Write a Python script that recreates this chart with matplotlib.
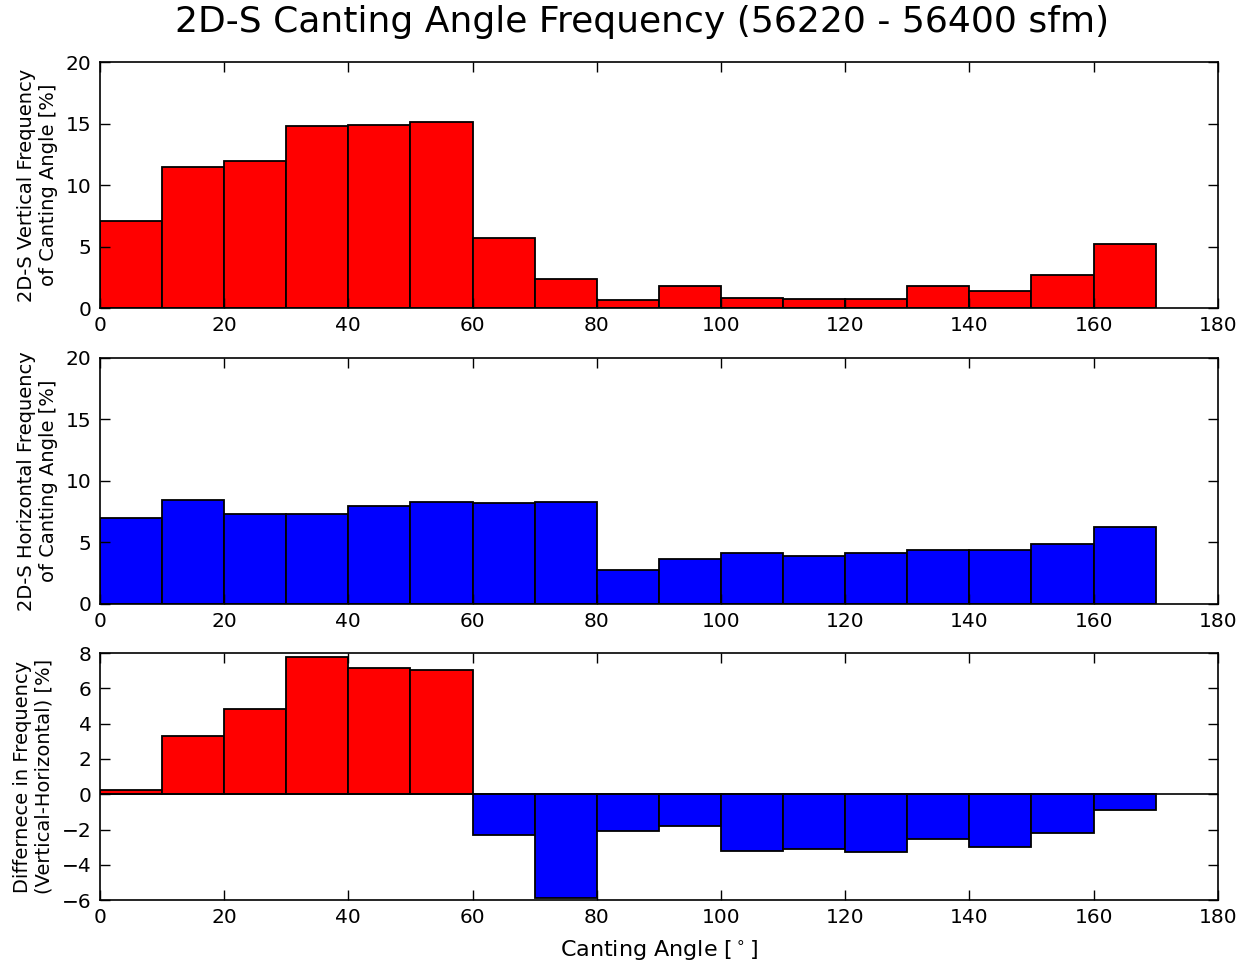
import matplotlib
matplotlib.use("Agg")
import matplotlib.pyplot as plt
import numpy as np

bin_edges = [0, 10, 20, 30, 40, 50, 60, 70, 80, 90, 100, 110, 120, 130, 140, 150, 160, 170]
vertical = [7.11, 11.5, 12.0, 14.8, 14.9, 15.1, 5.72, 2.34, 0.64, 1.83, 0.86, 0.78, 0.78, 1.83, 1.40, 2.66, 5.21]
horizontal = [6.99, 8.46, 7.32, 7.32, 7.94, 8.27, 8.16, 8.24, 2.74, 3.66, 4.09, 3.88, 4.09, 4.39, 4.39, 4.82, 6.21]
difference = [0.23, 3.29, 4.86, 7.77, 7.16, 7.07, -2.31, -5.90, -2.10, -1.81, -3.21, -3.12, -3.27, -2.53, -3.01, -2.17, -0.91]

title = "2D-S Canting Angle Frequency (56220 - 56400 sfm)"
ylabels = ["2D-S Vertical Frequency\nof Canting Angle [%]",
           "2D-S Horizontal Frequency\nof Canting Angle [%]",
           "Differnece in Frequency\n(Vertical-Horizontal) [%]"]
xlabel = "Canting Angle [$^\\circ$]"

lefts = bin_edges[:-1]
width = 10

fig = plt.figure(figsize=(12.49, 9.72), dpi=100)
L, W = 0.080, 0.895
ax1 = fig.add_axes([L, 0.683, W, 0.253])
ax2 = fig.add_axes([L, 0.379, W, 0.253])
ax3 = fig.add_axes([L, 0.074, W, 0.254])

def style(ax):
    ax.set_xlim(0, 180)
    ax.set_xticks(range(0, 181, 20))
    ax.tick_params(direction="in", top=True, right=True, labelsize=14.5, length=7, width=1, pad=6)
    for s in ax.spines.values():
        s.set_linewidth(1.2)

ax1.bar(lefts, vertical, width=width, align="edge", color="#ff0000", edgecolor="black", linewidth=1.3)
ax1.set_ylim(0, 20)
ax1.set_yticks([0, 5, 10, 15, 20])
style(ax1)
ax1.set_ylabel(ylabels[0], fontsize=14, labelpad=6)

ax2.bar(lefts, horizontal, width=width, align="edge", color="#0000ff", edgecolor="black", linewidth=1.3)
ax2.set_ylim(0, 20)
ax2.set_yticks([0, 5, 10, 15, 20])
style(ax2)
ax2.set_ylabel(ylabels[1], fontsize=14, labelpad=6)

diff = np.array(difference)
colors = ["#ff0000" if d >= 0 else "#0000ff" for d in diff]
ax3.bar(lefts, diff, width=width, align="edge", color=colors, edgecolor="black", linewidth=1.3)
ax3.axhline(0, color="black", linewidth=1.2)
ax3.set_ylim(-6, 8)
ax3.set_yticks(range(-6, 9, 2))
style(ax3)
ax3.set_ylabel(ylabels[2], fontsize=14, labelpad=6)
ax3.set_xlabel(xlabel, fontsize=16, labelpad=8)

fig.text(0.514, 0.977, title, fontsize=26, ha="center", va="center")

fig.savefig("out.png", dpi=100)
